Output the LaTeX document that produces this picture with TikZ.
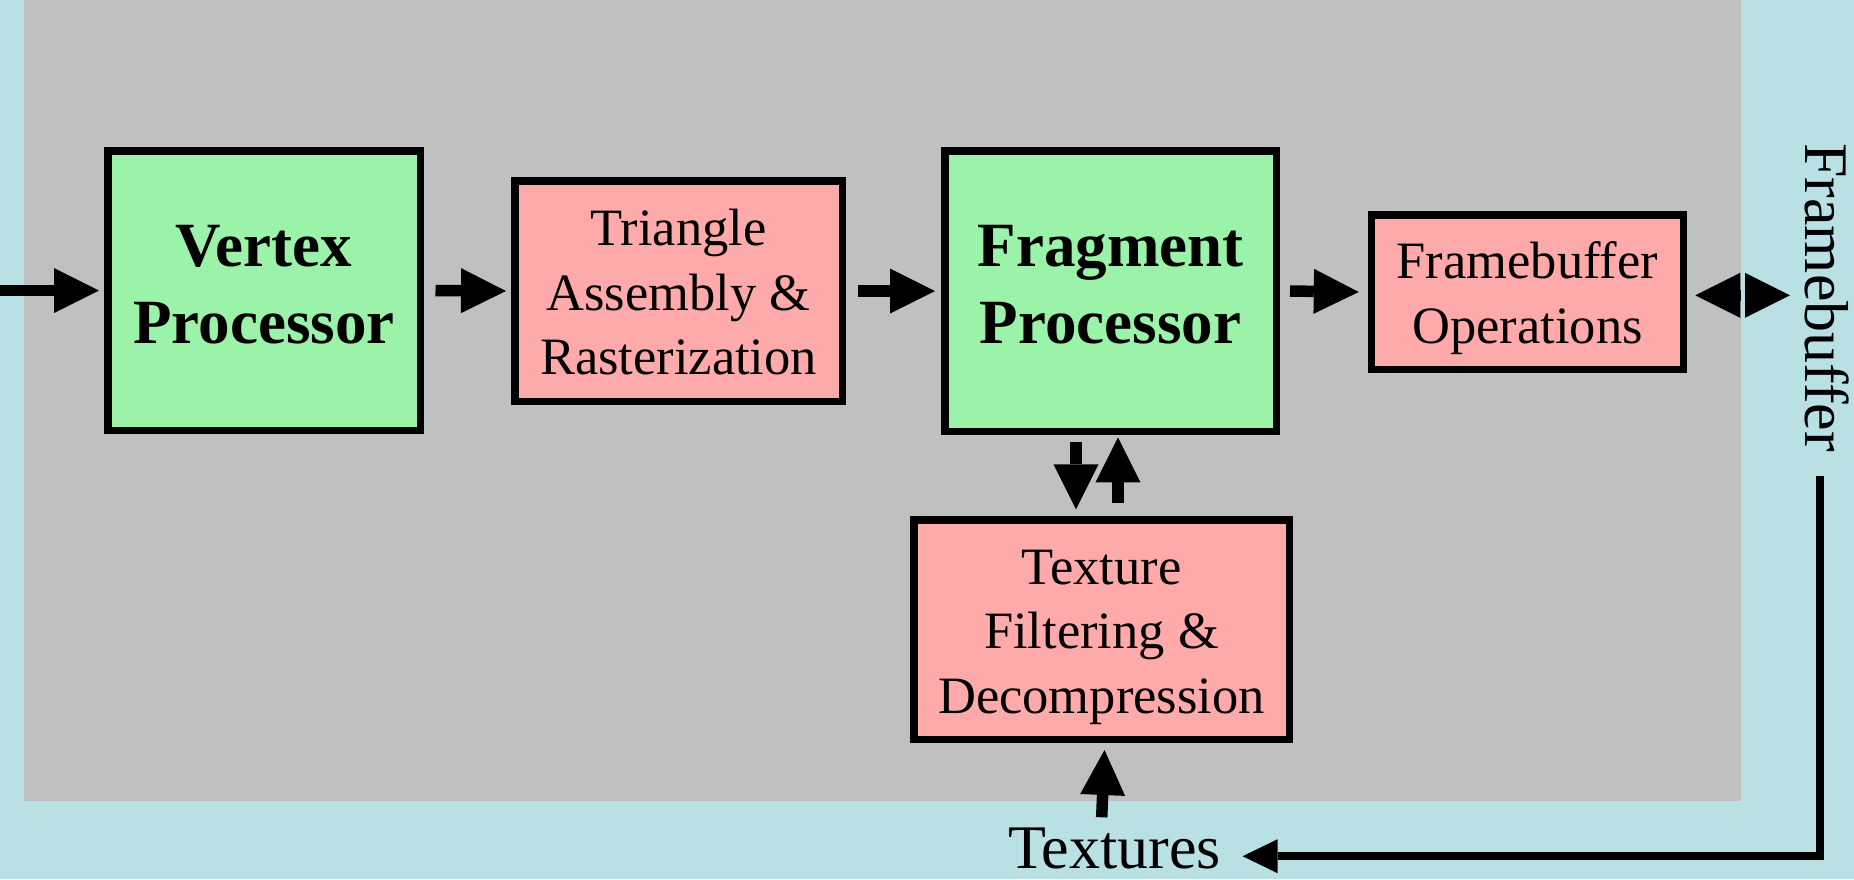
\documentclass[tikz,border=0pt]{standalone}
\usepackage{fontspec}
\setmainfont{Liberation Serif}
\usetikzlibrary{arrows.meta}

\definecolor{bgcyan}{HTML}{B9E0E3}
\definecolor{bggray}{HTML}{C0C0C0}
\definecolor{stagegreen}{HTML}{9BF2A9}
\definecolor{stagepink}{HTML}{FFAAAA}

% invisible struts so that every stage label is centred the same way
\newcommand{\capA}{\rule{0pt}{0.98em}}
\newcommand{\capB}{\rule{0pt}{0.71em}}
\newcommand{\descD}{\rule[-0.25em]{0pt}{0.25em}}

\tikzset{
  stagebox/.style={draw=black, line width=7.5pt, inner sep=0pt, align=center, text=black},
  plainstage/.style={stagebox, fill=stagepink, font=\fontsize{52.5}{64.5}\selectfont},
  corestage/.style={stagebox, fill=stagegreen, font=\fontsize{63}{77}\selectfont\bfseries},
  outerlabel/.style={inner sep=0pt, font=\fontsize{62}{75}\selectfont},
  flow/.style={line width=11.5pt, -{Triangle[length=45pt,width=45pt,line width=0pt]}},
  loopflow/.style={line width=7.5pt, line join=miter, -{Triangle[length=35pt,width=34pt,line width=0pt]}}
}

\begin{document}
\begin{tikzpicture}[x=1pt,y=1pt]
  \useasboundingbox (0,0) rectangle (1854,-879);
  % backgrounds: host side and GPU area
  \fill[bgcyan] (0,0) rectangle (1854,-879);
  \fill[bggray] (24,0) rectangle (1741,-801);

  % pipeline stages
  \node[corestage, minimum width=312.5pt, minimum height=279.5pt] (vp) at (264,-290.5)
    {\capB Vertex\\Processor\descD};
  \node[plainstage, minimum width=327.5pt, minimum height=220.5pt] (tri) at (678.5,-291)
    {\capA Triangle\\Assembly \&\\Rasterization\descD};
  \node[corestage, minimum width=331.5pt, minimum height=280.5pt] (fp) at (1110.5,-291)
    {\capB Fragment\\Processor\descD};
  \node[plainstage, minimum width=312pt, minimum height=154.5pt] (fbo) at (1527.5,-292)
    {\capA Framebuffer\\Operations\descD};
  \node[plainstage, minimum width=375.5pt, minimum height=219.5pt] (tex) at (1101.5,-629.5)
    {\capA Texture\\Filtering \&\\Decompression\descD};

  % memory labels
  \node[outerlabel, anchor=base west, rotate=-90] (fbtxt) at (1805,-143) {Framebuffer};
  \node[outerlabel, anchor=base west] (txt) at (1008,-868) {Textures};

  % data flow
  \coordinate (src) at (0,-290.5);
  \draw[flow] (src) -- ([xshift=-5pt]vp.west);
  \draw[flow] ([xshift=11.5pt]vp.east) -- ([xshift=-5pt]tri.west);
  \draw[flow] ([xshift=12pt]tri.east) -- ([xshift=-6pt]fp.west);
  \draw[flow] ([xshift=10pt]fp.east) -- ([xshift=-9pt]fbo.west);

  % read/write to the framebuffer
  \coordinate (fbmid) at (1742.5,-295.3);
  \coordinate (fbin) at (1790,-295.3);
  \draw[flow] ([xshift=-2.5pt]fbmid) -- ([xshift=8pt,yshift=-3.3pt]fbo.east);
  \draw[flow] ([xshift=2.5pt]fbmid) -- (fbin);

  % texture requests and results
  \draw[flow] ([xshift=-34.5pt,yshift=-6.7pt]fp.south) -- ([xshift=-25.5pt,yshift=6.7pt]tex.north);
  \draw[flow] ([xshift=16.5pt,yshift=12.7pt]tex.north) -- ([xshift=7.5pt,yshift=-2.3pt]fp.south);
  \draw[flow] ([xshift=-12.8pt,yshift=9.9pt]txt.north) -- ([xshift=3pt,yshift=-7pt]tex.south);

  % render-to-texture loop
  \draw[loopflow] ([xshift=-6.6pt,yshift=-24pt]fbtxt.east) |- ([xshift=21.6pt,yshift=-8.2pt]txt.east);
\end{tikzpicture}
\end{document}
